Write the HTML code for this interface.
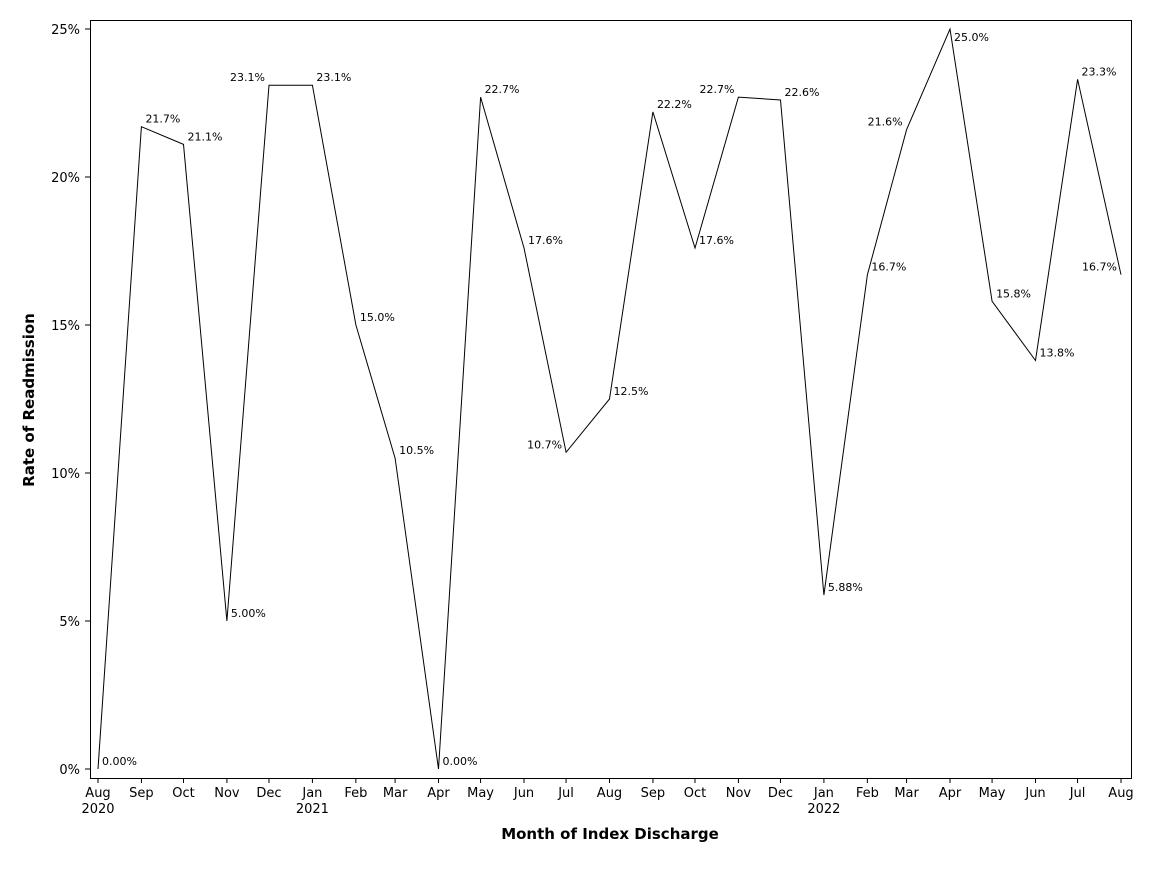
<!DOCTYPE html>
<html><head><meta charset="utf-8"><style>
body{margin:0;background:#fff;}
svg{font-family:"DejaVu Sans","Liberation Sans",sans-serif;}
</style></head><body>
<svg id="chart" width="1152" height="864" xmlns="http://www.w3.org/2000/svg">
<rect x="90.5" y="20.5" width="1041" height="758" fill="none" stroke="#000" stroke-width="1"/>
<g id="yaxis"></g>
<g id="xaxis"></g>
<g id="series"></g>
<text transform="translate(34,400) rotate(-90)" text-anchor="middle" font-size="15" font-weight="bold">Rate of Readmission</text>
<text x="610" y="839" text-anchor="middle" font-size="15" font-weight="bold">Month of Index Discharge</text>
</svg>
<script>
const months = ["2020-08","2020-09","2020-10","2020-11","2020-12","2021-01","2021-02","2021-03","2021-04","2021-05","2021-06","2021-07","2021-08","2021-09","2021-10","2021-11","2021-12","2022-01","2022-02","2022-03","2022-04","2022-05","2022-06","2022-07","2022-08"];
const rates = [0.00,21.7,21.1,5.00,23.1,23.1,15.0,10.5,0.00,22.7,17.6,10.7,12.5,22.2,17.6,22.7,22.6,5.88,16.7,21.6,25.0,15.8,13.8,23.3,16.7];
const valueLabels = ["0.00%","21.7%","21.1%","5.00%","23.1%","23.1%","15.0%","10.5%","0.00%","22.7%","17.6%","10.7%","12.5%","22.2%","17.6%","22.7%","22.6%","5.88%","16.7%","21.6%","25.0%","15.8%","13.8%","23.3%","16.7%"];
const labelSide = ["r","r","r","r","l","r","r","r","r","r","r","l","r","r","r","l","r","r","r","l","rb","r","r","r","l"];
const monthNames = ["Jan","Feb","Mar","Apr","May","Jun","Jul","Aug","Sep","Oct","Nov","Dec"];
const yTicks = [0,5,10,15,20,25];
const NS="http://www.w3.org/2000/svg";
const t0=Date.UTC(2020,7,1), t1=Date.UTC(2022,7,1);
function ms(s){const [y,m]=s.split("-").map(Number);return Date.UTC(y,m-1,1);}
function X(s){return 98+(ms(s)-t0)/(t1-t0)*1023;}
function Y(v){return 769-v*29.6;}
function mk(tag,attrs,parent,txt){const e=document.createElementNS(NS,tag);for(const k in attrs)e.setAttribute(k,attrs[k]);if(txt!==undefined)e.textContent=txt;parent.appendChild(e);return e;}
const ya=document.getElementById("yaxis"),xa=document.getElementById("xaxis"),sr=document.getElementById("series");
yTicks.forEach(v=>{
 const l=mk("line",{x1:85,x2:90,y1:Y(v),y2:Y(v),stroke:"#000"},ya);
 
 
 const t=mk("text",{x:80,y:Y(v)+5,"text-anchor":"end","font-size":13},ya,v+"%");
 
 
});
months.forEach(m=>{
 const x=X(m);const [y,mo]=m.split("-").map(Number);
 const l=mk("line",{x1:x,x2:x,y1:778,y2:783,stroke:"#000"},xa);
 
 
 const t=mk("text",{x:x,y:797,"text-anchor":"middle","font-size":13},xa,monthNames[mo-1]);
 
 
 if(mo===1||m===months[0]){
  const t2=mk("text",{x:x,y:813,"text-anchor":"middle","font-size":13},xa,String(y));
  
  
 }
});
const pts=months.map((m,i)=>X(m).toFixed(1)+","+Y(rates[i]).toFixed(1)).join(" ");
const pl=mk("polyline",{points:pts,fill:"none",stroke:"#000","stroke-width":1},sr);


months.forEach((m,i)=>{
 const x=X(m),y=Y(rates[i]),s=labelSide[i];
 const left=s==="l";
 const ty=s==="rb"?y+12:y-4;
 const t=mk("text",{x:left?x-4:x+4,y:ty,"text-anchor":left?"end":"start","font-size":11},sr,valueLabels[i]);
 
 
});
</script>
</body></html>
